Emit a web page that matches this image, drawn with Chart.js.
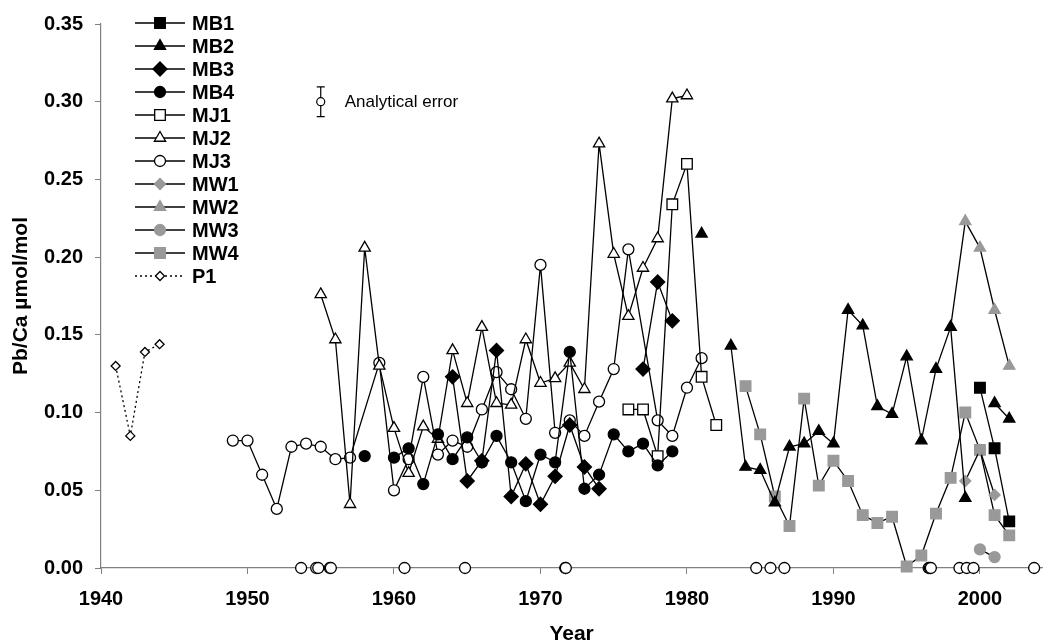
<!DOCTYPE html>
<html>
<head>
<meta charset="utf-8">
<script src="https://cdn.jsdelivr.net/npm/chart.js"></script>
<style>
  html, body { margin: 0; padding: 0; background: #fff; }
</style>
</head>
<body>
<canvas id="pbChart" width="1051" height="644"></canvas>
<script>
// values (Pb/Ca, umol/mol)
const xTicks = [1940, 1950, 1960, 1970, 1980, 1990, 2000];
const yTicks = [0, 0.05, 0.10, 0.15, 0.20, 0.25, 0.30, 0.35];

const mb1Years = [2000, 2001, 2002];
const mb1 = [0.116, 0.077, 0.030];

const mb2Years = [1981, 1982, 1983, 1984, 1985, 1986, 1987, 1988, 1989, 1990, 1991,
  1992, 1993, 1994, 1995, 1996, 1997, 1998, 1999, 2000, 2001, 2002];
const mb2 = [0.215, null, 0.143, 0.065, 0.063, 0.042, 0.078, 0.080, 0.088, 0.080, 0.166,
  0.156, 0.104, 0.099, 0.136, 0.082, 0.128, 0.155, 0.045, null, 0.106, 0.096];

const mb3Years = [1964, 1965, 1966, 1967, 1968, 1969, 1970, 1971, 1972, 1973, 1974,
  1975, 1976, 1977, 1978, 1979];
const mb3 = [0.123, 0.056, 0.069, 0.140, 0.046, 0.067, 0.041, 0.059, 0.092, 0.065, 0.051,
  null, null, 0.128, 0.184, 0.159];

const mb4Years = [1958, 1959, 1960, 1961, 1962, 1963, 1964, 1965, 1966, 1967, 1968,
  1969, 1970, 1971, 1972, 1973, 1974, 1975, 1976, 1977, 1978, 1979];
const mb4 = [0.072, null, 0.071, 0.077, 0.054, 0.086, 0.070, 0.084, 0.068, 0.085, 0.068,
  0.043, 0.073, 0.068, 0.139, 0.051, 0.060, 0.086, 0.075, 0.080, 0.066, 0.075];

const mj1Years = [1976, 1977, 1978, 1979, 1980, 1981, 1982];
const mj1 = [0.102, 0.102, 0.072, 0.234, 0.260, 0.123, 0.092];

const mj2Years = [1955, 1956, 1957, 1958, 1959, 1960, 1961, 1962, 1963, 1964, 1965, 1966,
  1967, 1968, 1969, 1970, 1971, 1972, 1973, 1974, 1975, 1976, 1977, 1978, 1979, 1980];
const mj2 = [0.176, 0.147, 0.041, 0.206, 0.130, 0.090, 0.061, 0.091, 0.083, 0.140, 0.106, 0.155,
  0.106, 0.105, 0.147, 0.119, 0.122, 0.132, 0.115, 0.273, 0.202, 0.162, 0.193, 0.212, 0.302, 0.304];

const mj3Years = [1949, 1950, 1951, 1952, 1953, 1954, 1955, 1956, 1957, 1959, 1960, 1961,
  1962, 1963, 1964, 1965, 1966, 1967, 1968, 1969, 1970, 1971, 1972, 1973, 1974, 1975,
  1976, 1978, 1979, 1980, 1981];
const mj3 = [0.082, 0.082, 0.060, 0.038, 0.078, 0.080, 0.078, 0.070, 0.071, 0.132, 0.050, 0.070,
  0.123, 0.073, 0.082, 0.078, 0.102, 0.126, 0.115, 0.096, 0.195, 0.087, 0.095, 0.085, 0.107, 0.128,
  0.205, 0.095, 0.085, 0.116, 0.135];

// MJ3 samples plotted on the zero line
const mj3ZeroYears = [1953.66, 1954.69, 1954.83, 1955.62, 1955.69, 1960.72, 1964.85, 1971.69,
  1971.73, 1984.73, 1985.70, 1986.65, 1996.50, 1996.58, 1996.65, 1998.60, 1999.10, 1999.56, 2003.70];
const mj3Zero = mj3ZeroYears.map(() => 0);

const mw1Years = [1999, 2000, 2001];
const mw1 = [0.056, 0.076, 0.047];

const mw2Years = [1998, 1999, 2000, 2001, 2002];
const mw2 = [0.155, 0.223, 0.206, 0.166, 0.130];

const mw3Years = [2000, 2001];
const mw3 = [0.012, 0.007];

const mw4Years = [1984, 1985, 1986, 1987, 1988, 1989, 1990, 1991, 1992, 1993, 1994, 1995,
  1996, 1997, 1998, 1999, 2000, 2001, 2002];
const mw4 = [0.117, 0.086, 0.046, 0.027, 0.109, 0.053, 0.069, 0.056, 0.034, 0.029, 0.033, 0.001,
  0.008, 0.035, 0.058, 0.100, 0.076, 0.034, 0.021];

const p1Years = [1941, 1942, 1943, 1944];
const p1 = [0.130, 0.085, 0.139, 0.144];

// analytical error symbol
const errYear = [1955];
const errValue = [0.300];
const errHalf = [0.0096];

const legendNames = ["MB1", "MB2", "MB3", "MB4", "MJ1", "MJ2", "MJ3", "MW1", "MW2", "MW3", "MW4", "P1"];

const FONT = '"Liberation Sans", Arial, sans-serif';
const GREY = "#999999";

const toPts = (xs, ys) => xs.map((x, i) => ({ x: x, y: ys[i] }));

function mkSet(label, xs, ys, shape, fill, edge, r, dash) {
  return {
    label: label,
    data: toPts(xs, ys),
    showLine: true,
    borderColor: "#000",
    borderWidth: 1.3,
    borderDash: dash || [],
    pointStyle: shape,
    pointRadius: r,
    pointHoverRadius: r,
    pointBackgroundColor: fill,
    pointBorderColor: edge,
    pointBorderWidth: 1.3,
    fill: false,
    tension: 0,
    spanGaps: false,
    clip: false
  };
}

const datasets = [
  mkSet("MB1", mb1Years, mb1, "rect", "#000", "#000", 7.5),
  mkSet("MB2", mb2Years, mb2, "triangle", "#000", "#000", 6.5),
  mkSet("MB3", mb3Years, mb3, "rectRot", "#000", "#000", 7),
  mkSet("MB4", mb4Years, mb4, "circle", "#000", "#000", 5.5),
  mkSet("MJ1", mj1Years, mj1, "rect", "#fff", "#000", 7.5),
  mkSet("MJ2", mj2Years, mj2, "triangle", "#fff", "#000", 6.5),
  mkSet("MJ3", mj3Years, mj3, "circle", "#fff", "#000", 5.5),
  mkSet("MW1", mw1Years, mw1, "rectRot", GREY, GREY, 5.5),
  mkSet("MW2", mw2Years, mw2, "triangle", GREY, GREY, 6.5),
  mkSet("MW3", mw3Years, mw3, "circle", GREY, GREY, 5.5),
  mkSet("MW4", mw4Years, mw4, "rect", GREY, GREY, 7.5),
  mkSet("P1", p1Years, p1, "rectRot", "#fff", "#000", 4.5, [2, 3]),
  Object.assign(mkSet("MJ3 zero", mj3ZeroYears, mj3Zero, "circle", "#fff", "#000", 5.5), { showLine: false })
];

// legend drawn inside the plot: line sample with the marker in the middle
const sideLegend = {
  id: "sideLegend",
  afterDatasetsDraw(chart) {
    const ctx = chart.ctx;
    ctx.save();
    legendNames.forEach((name, i) => {
      const ds = chart.data.datasets[i];
      const y = 23 + i * 23;
      ctx.strokeStyle = ds.borderColor;
      ctx.lineWidth = ds.borderWidth;
      ctx.setLineDash(ds.borderDash);
      ctx.beginPath();
      ctx.moveTo(135, y);
      ctx.lineTo(185, y);
      ctx.stroke();
      ctx.setLineDash([]);
      ctx.fillStyle = ds.pointBackgroundColor;
      ctx.strokeStyle = ds.pointBorderColor;
      ctx.lineWidth = ds.pointBorderWidth;
      Chart.helpers.drawPoint(ctx, {
        pointStyle: ds.pointStyle, radius: ds.pointRadius, rotation: 0, borderWidth: ds.pointBorderWidth
      }, 160, y);
      ctx.fillStyle = "#000";
      ctx.font = "bold 20px " + FONT;
      ctx.textBaseline = "middle";
      ctx.textAlign = "left";
      ctx.fillText(name, 192, y + 1);
    });
    ctx.restore();
  }
};

// "Analytical error" symbol
const errorNote = {
  id: "errorNote",
  afterDatasetsDraw(chart) {
    const ctx = chart.ctx;
    const xs = chart.scales.x, ys = chart.scales.y;
    ctx.save();
    errYear.forEach((yr, i) => {
      const px = xs.getPixelForValue(yr);
      const py = ys.getPixelForValue(errValue[i]);
      const top = ys.getPixelForValue(errValue[i] + errHalf[i]);
      const bot = ys.getPixelForValue(errValue[i] - errHalf[i]);
      ctx.strokeStyle = "#000";
      ctx.lineWidth = 1.2;
      ctx.beginPath();
      ctx.moveTo(px, top); ctx.lineTo(px, bot);
      ctx.moveTo(px - 4, top); ctx.lineTo(px + 4, top);
      ctx.moveTo(px - 4, bot); ctx.lineTo(px + 4, bot);
      ctx.stroke();
      ctx.fillStyle = "#fff";
      ctx.beginPath();
      ctx.arc(px, py, 4, 0, Math.PI * 2);
      ctx.fill();
      ctx.stroke();
      ctx.fillStyle = "#000";
      ctx.font = "17px " + FONT;
      ctx.textBaseline = "middle";
      ctx.fillText("Analytical error", px + 24, py + 1);
    });
    ctx.restore();
  }
};

new Chart(document.getElementById("pbChart"), {
  type: "scatter",
  data: { datasets: datasets },
  options: {
    responsive: false,
    animation: false,
    events: [],
    layout: { padding: { top: 22, right: 1, left: 0, bottom: 0 } },
    plugins: { legend: { display: false }, tooltip: { enabled: false } },
    scales: {
      x: {
        type: "linear",
        min: 1940,
        max: 2004.25,
        afterBuildTicks: (s) => { s.ticks = xTicks.map((v) => ({ value: v })); },
        afterFit: (s) => { s.height = 76; },
        grid: { drawOnChartArea: false, color: "#808080", tickLength: 6 },
        border: { color: "#808080", width: 1.2 },
        ticks: {
          color: "#000", padding: 13, maxRotation: 0,
          font: { family: FONT, size: 20, weight: "bold" },
          callback: (v) => String(v)
        },
        title: {
          display: true, text: "Year", color: "#000",
          font: { family: FONT, size: 21, weight: "bold", lineHeight: 1 },
          padding: { top: 0, bottom: -1 }
        }
      },
      y: {
        min: 0,
        max: 0.35,
        afterBuildTicks: (s) => { s.ticks = yTicks.map((v) => ({ value: v })); },
        afterFit: (s) => { s.width = 101; },
        grid: { drawOnChartArea: false, color: "#808080", tickLength: 6 },
        border: { color: "#808080", width: 1.2 },
        ticks: {
          color: "#000", padding: 12,
          font: { family: FONT, size: 20, weight: "bold" },
          callback: (v) => v.toFixed(2)
        },
        title: {
          display: true, text: "Pb/Ca µmol/mol", color: "#000",
          font: { family: FONT, size: 21, weight: "bold", lineHeight: 1 },
          padding: { top: 11, bottom: 0 }
        }
      }
    }
  },
  plugins: [sideLegend, errorNote]
});
</script>
</body>
</html>
